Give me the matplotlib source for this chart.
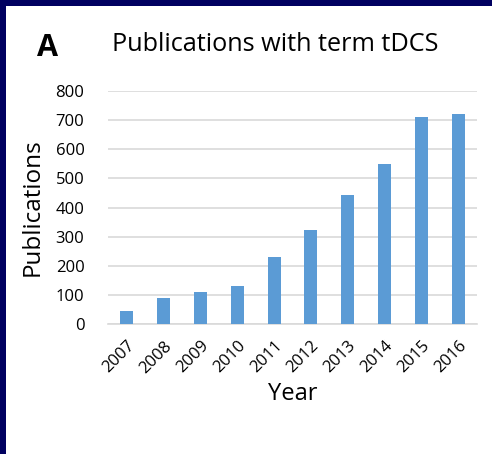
import numpy as np
import matplotlib.pyplot as plt
from matplotlib.patches import Rectangle

anos = ['2007', '2008', '2009', '2010', '2011', '2012', '2013', '2014', '2015', '2016']
publicacoes = [46, 88, 109, 130, 229, 322, 443, 549, 712, 720]
yticks = [0, 100, 200, 300, 400, 500, 600, 700, 800]

plt.rcParams['font.family'] = ['Open Sans', 'DejaVu Sans']

fig = plt.figure(figsize=(4.92, 4.54), dpi=100)
fig.patch.set_facecolor('#000060')
# painel branco (borda azul em cima e a esquerda)
fig.patches.append(Rectangle((6 / 492, 0), 1, 1 - 6 / 454, transform=fig.transFigure,
                             facecolor='white', edgecolor='none', zorder=-5))

ax = fig.add_axes([0.2195, 0.2863, 0.75, 0.5133])
ax.set_zorder(2)
x = np.arange(len(anos))
ax.bar(x, publicacoes, width=0.35, color='#5B9BD5', zorder=3)

ax.set_xlim(-0.5, len(anos) - 0.5)
ax.set_ylim(0, 800)
ax.set_yticks(yticks)
ax.set_xticks(x)
ax.set_xticklabels(anos, rotation=45, ha='right', rotation_mode='anchor', fontsize=12)
ax.tick_params(axis='y', labelsize=12, length=0, pad=17)
ax.tick_params(axis='x', length=0, pad=10)
ax.grid(axis='y', color='#d9d9d9', linewidth=1.2, zorder=0)
for lado in ['top', 'right', 'left']:
    ax.spines[lado].set_visible(False)
ax.spines['bottom'].set_color('#d9d9d9')
ax.spines['bottom'].set_linewidth(1.2)

ax.set_xlabel('Year', fontsize=17, labelpad=4)
ax.set_ylabel('Publications', fontsize=17.5, labelpad=8)

fig.text(0.56, 0.902, 'Publications with term tDCS', ha='center', va='center', fontsize=18.2)
fig.text(0.096, 0.894, 'A', ha='center', va='center', fontsize=22, fontweight='bold')

plt.savefig('out.png', dpi=100, facecolor=fig.get_facecolor())
